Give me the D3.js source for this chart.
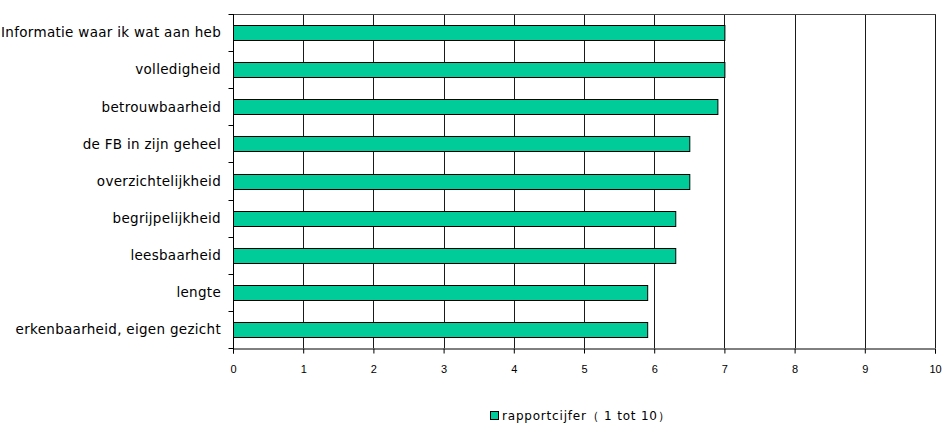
<!DOCTYPE html>
<html>
<head>
<meta charset="utf-8">
<script src="https://cdn.jsdelivr.net/npm/d3@7"></script>
<style>
  html, body { margin: 0; padding: 0; background: #fff; }
  svg { display: block; }
  text { font-family: "DejaVu Sans", Verdana, sans-serif; fill: #000; }
</style>
</head>
<body>
<svg id="chart" width="943" height="426"></svg>
<script>
// Categories, top to bottom
const categories = [
  "Informatie waar ik wat aan heb",
  "volledigheid",
  "betrouwbaarheid",
  "de FB in zijn geheel",
  "overzichtelijkheid",
  "begrijpelijkheid",
  "leesbaarheid",
  "lengte",
  "erkenbaarheid, eigen gezicht"
];
// Report mark (1 to 10)
const scores = [7.0, 7.0, 6.9, 6.5, 6.5, 6.3, 6.3, 5.9, 5.9];
const xTicks = [0, 1, 2, 3, 4, 5, 6, 7, 8, 9, 10];
const seriesName = "rapportcijfer（ 1 tot 10）";

const svg = d3.select("#chart");
const plotLeft = 233, plotRight = 935, plotTop = 14, plotBottom = 348;

const x = d3.scaleLinear().domain([0, 10]).range([plotLeft, plotRight]);
const yb = d3.scaleBand().domain(categories).range([plotTop, plotBottom]);

// vertical gridlines
svg.append("g").selectAll("line").data(xTicks.slice(1)).join("line")
  .attr("x1", d => Math.round(x(d)) + 0.5).attr("x2", d => Math.round(x(d)) + 0.5)
  .attr("y1", plotTop).attr("y2", plotBottom)
  .attr("stroke", "#1a1a1a").attr("stroke-width", 1);

// top border
svg.append("line")
  .attr("x1", plotLeft).attr("x2", Math.round(plotRight) + 1)
  .attr("y1", plotTop + 0.5).attr("y2", plotTop + 0.5)
  .attr("stroke", "#444");

// bars
svg.append("g").selectAll("rect").data(scores).join("rect")
  .attr("x", x(0) + 0.5)
  .attr("y", (d, i) => Math.round(yb(categories[i]) + yb.bandwidth() / 2 - 7.5) + 0.5)
  .attr("width", d => x(d) - x(0))
  .attr("height", 15)
  .attr("fill", "#00CC99")
  .attr("stroke", "#000").attr("stroke-width", 1);

// x axis
const xAxis = svg.append("g").attr("transform", `translate(0,${plotBottom + 0.5})`)
  .call(d3.axisBottom(x).tickValues(xTicks).tickSize(5).tickPadding(12).tickFormat(d3.format("d")));
xAxis.select(".domain").attr("stroke", "#000");
xAxis.selectAll(".tick line").attr("stroke", "#000");
xAxis.selectAll("text").style("font-size", "11px").style("font-family", "Liberation Sans, Arial, sans-serif");

// y axis with ticks on band boundaries
const yAxisG = svg.append("g").attr("transform", `translate(${plotLeft + 0.5},0)`);
yAxisG.append("line").attr("y1", plotTop).attr("y2", plotBottom + 5).attr("stroke", "#000");
const boundaries = d3.range(categories.length + 1).map(i => plotTop + i * yb.step());
yAxisG.selectAll("line.tk").data(boundaries).join("line").attr("class", "tk")
  .attr("x1", -5).attr("x2", 0)
  .attr("y1", d => Math.round(d) + 0.5).attr("y2", d => Math.round(d) + 0.5)
  .attr("stroke", "#000");

svg.append("g").selectAll("text").data(categories).join("text")
  .attr("x", 221)
  .attr("y", d => yb(d) + yb.bandwidth() / 2)
  .attr("dy", "0.35em")
  .attr("text-anchor", "end")
  .style("font-size", "13.5px")
  .style("letter-spacing", "0.3px")
  .text(d => d);

// legend
const lg = svg.append("g").attr("transform", "translate(490,411)");
lg.append("rect").attr("x", 0.5).attr("y", 0.5).attr("width", 8).attr("height", 8)
  .attr("fill", "#00CC99").attr("stroke", "#000");
lg.append("text").attr("x", 12).attr("y", 9).style("font-size", "12px")
  .style("letter-spacing", "0.8px").text(seriesName);
</script>
</body>
</html>
